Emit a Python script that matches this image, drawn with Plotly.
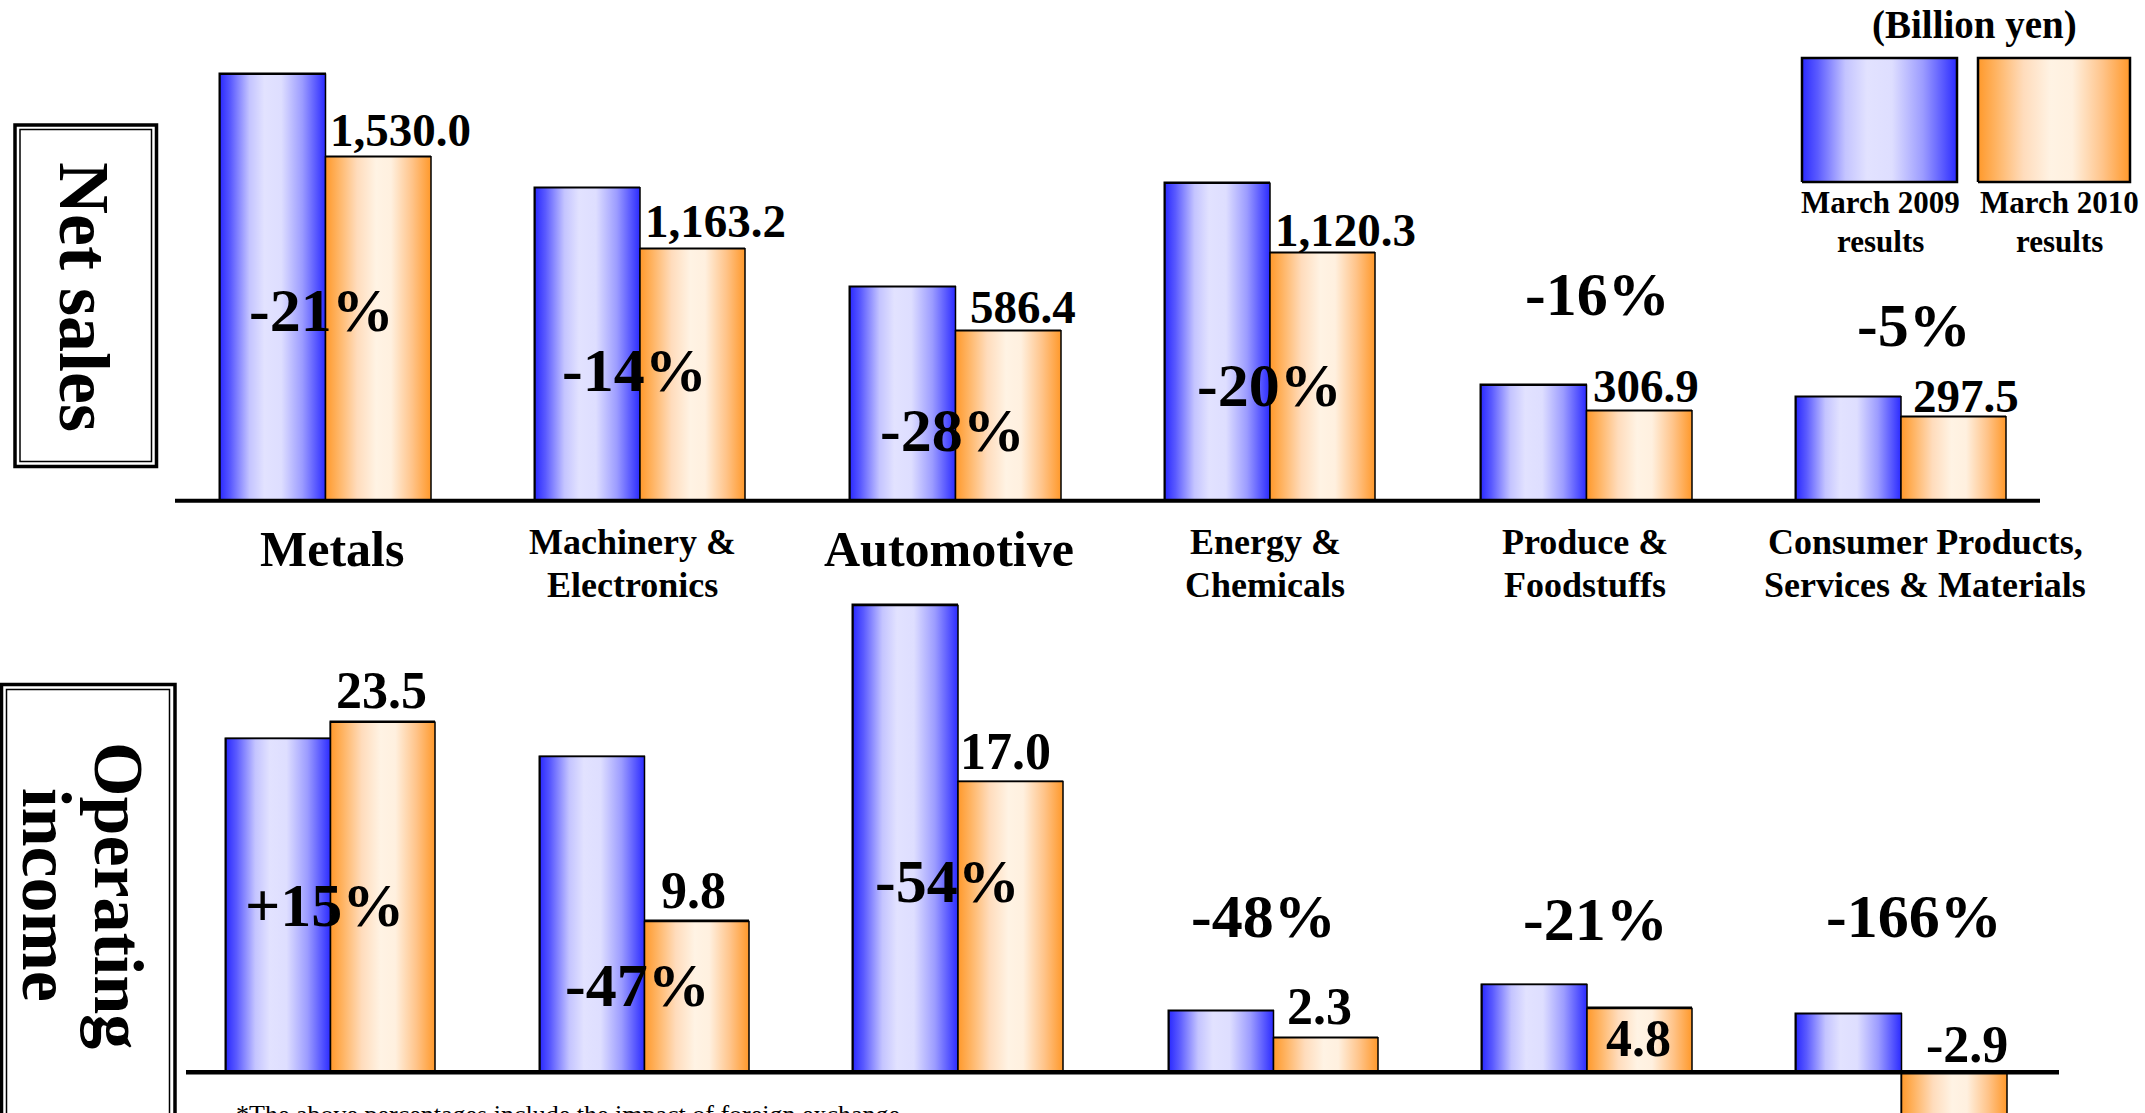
import plotly.graph_objects as go

# ---------------- data ----------------
categories = ["Metals", "Machinery & Electronics", "Automotive",
              "Energy & Chemicals", "Produce & Foodstuffs",
              "Consumer Products, Services & Materials"]
category_lines = [["Metals"], ["Machinery &", "Electronics"], ["Automotive"],
                  ["Energy &", "Chemicals"], ["Produce &", "Foodstuffs"],
                  ["Consumer Products,", "Services & Materials"]]
series_names = ["March 2009 results", "March 2010 results"]

sales_2009 = [1897, 1445, 738, 1434, 394, 368]
sales_2010 = [1530.0, 1163.2, 586.4, 1120.3, 306.9, 297.5]
sales_change = ["-21%", "-14%", "-28%", "-20%", "-16%", "-5%"]

income_2009 = [22.4, 20.5, 27.3, 4.1, 6.6, 4.0]
income_2010 = [23.5, 9.8, 17.0, 2.3, 4.8, -2.9]
income_change = ["+15%", "-47%", "-54%", "-48%", "-21%", "-166%"]

unit_label = "(Billion yen)"
footnote = "*The above percentages include the impact of foreign exchange."

# ---------------- layout constants (pixels) ----------------
W, H = 2145, 1113
FONT = "Times New Roman, Liberation Serif, serif"


def px(x):
    return x / W


def py(y):
    return 1 - y / H


TOP_BASE = 500.7
BOT_BASE = 1072.3
BOT_TOP = 560
top_x = [(220, 431), (535, 745), (850, 1061), (1165, 1375), (1481, 1692), (1796, 2006)]
bot_x = [(226, 435), (540, 749), (853, 1063), (1169, 1378), (1482, 1692), (1796, 2007)]
top_ppu = [0.2248, 0.2166, 0.2899, 0.2214, 0.2933, 0.2824]   # px per unit, each panel
bot_ppu = [14.9, 15.4, 17.1, 15.0, 13.3, 14.65]

top_pct_pos = [(321, 310), (634, 370), (952, 430), (1269, 385), (1597, 294), (1914, 325)]
bot_pct_pos = [(324, 905), (637, 985), (947, 881), (1263, 916), (1595, 919), (1914, 916)]
top_val_shift = [(22, 27), (23, 28), (15, 24), (23, 23), (7, 25), (12, 21)]
bot_val_shift = [(-1, 32), (-3, 31), (-5, 30), (-6, 31), (-1, -30), (13, 28)]
cat_single_y = 549
cat_two_y = (542, 585)
cat_centers = [332, 632, 949, 1265, 1585, 1925]

BLUE_SCALE = [[0, "#2b2bff"], [0.1, "#5a5aff"], [0.28, "#c4c4ff"], [0.42, "#e2e2ff"],
              [0.58, "#dedeff"], [0.78, "#9c9cff"], [1, "#2b2bff"]]
ORANGE_SCALE = [[0, "#ff992b"], [0.12, "#ffb463"], [0.3, "#ffdcbc"], [0.48, "#fff3e4"],
                [0.62, "#fff0df"], [0.82, "#ffc48a"], [1, "#ff992b"]]
MID_COLORS = ["#8a8aff", "#ffcf9e"]

fig = go.Figure()
layout_axes = {}
PAD = 4  # px padding so outlines are not clipped


def axis_names(n):
    return ("x" if n == 1 else f"x{n}", "y" if n == 1 else f"y{n}",
            "xaxis" if n == 1 else f"xaxis{n}", "yaxis" if n == 1 else f"yaxis{n}")


def add_panel(n, xpx, ydom, yrange, v09, v10):
    xa, ya, xk, yk = axis_names(n)
    x0, x1 = xpx
    pad_u = PAD * 2.0 / (x1 - x0)
    fig.add_trace(go.Bar(x=[0, 1], y=[v09, v10], width=[1, 1], name="",
                         marker=dict(color=MID_COLORS, line=dict(color="black", width=1.5)),
                         xaxis=xa, yaxis=ya, hovertext=series_names, hoverinfo="text+y"))
    for j, (v, cs) in enumerate(zip([v09, v10], [BLUE_SCALE, ORANGE_SCALE])):
        fig.add_trace(go.Scatter(
            x=[j - 0.5, j - 0.5, j + 0.5, j + 0.5, j - 0.5], y=[0, v, v, 0, 0],
            fill="toself", fillgradient=dict(type="horizontal", colorscale=cs),
            line=dict(color="black", width=1.5), mode="lines",
            xaxis=xa, yaxis=ya, hoverinfo="skip"))
    layout_axes[xk] = dict(domain=[px(x0 - PAD), px(x1 + PAD)], range=[-0.5 - pad_u, 1.5 + pad_u],
                           visible=False, anchor=ya, fixedrange=True)
    layout_axes[yk] = dict(domain=ydom, range=yrange, visible=False, anchor=xa, fixedrange=True)


annotations = []


def bold(text, size, x, y, **kw):
    d = dict(text=text, x=x, y=y, xref=kw.pop("xref", "paper"), yref=kw.pop("yref", "paper"),
             showarrow=False, font=dict(family=FONT, size=size, color="black", weight="bold"),
             xanchor=kw.pop("xanchor", "center"), yanchor=kw.pop("yanchor", "middle"))
    d.update(kw)
    annotations.append(d)


for i in range(len(categories)):
    # net sales panel
    ymax = TOP_BASE / top_ppu[i]
    add_panel(i + 1, top_x[i], [py(TOP_BASE), 1], [0, ymax], sales_2009[i], sales_2010[i])
    xa, ya, _, _ = axis_names(i + 1)
    dx, dy = top_val_shift[i]
    bold(f"{sales_2010[i]:,.1f}", 47, 1, max(sales_2010[i], 0), xref=xa, yref=ya, xshift=dx, yshift=dy)
    bold(sales_change[i], 62, px(top_pct_pos[i][0]), py(top_pct_pos[i][1]))

    # operating income panel
    n = i + 7
    ymax = (BOT_BASE - BOT_TOP) / bot_ppu[i]
    ymin = -(H - BOT_BASE) / bot_ppu[i]
    add_panel(n, bot_x[i], [0, py(BOT_TOP)], [ymin, ymax], income_2009[i], income_2010[i])
    xa, ya, _, _ = axis_names(n)
    dx, dy = bot_val_shift[i]
    bold(f"{income_2010[i]:.1f}", 52, 1, max(income_2010[i], 0), xref=xa, yref=ya, xshift=dx, yshift=dy)
    bold(income_change[i], 62, px(bot_pct_pos[i][0]), py(bot_pct_pos[i][1]))

    # category labels
    lines = category_lines[i]
    if len(lines) == 1:
        bold(lines[0], 50, px(cat_centers[i]), py(cat_single_y))
    else:
        for ln, yy in zip(lines, cat_two_y):
            bold(ln, 36, px(cat_centers[i]), py(yy))

# legend swatches on an overlay pixel axis
LEG = [((1802, 1957), (58, 182), BLUE_SCALE), ((1978, 2130), (58, 182), ORANGE_SCALE)]
for (lx, ly, cs) in LEG:
    fig.add_trace(go.Scatter(x=[lx[0], lx[0], lx[1], lx[1], lx[0]], y=[ly[1], ly[0], ly[0], ly[1], ly[1]],
                             fill="toself", fillgradient=dict(type="horizontal", colorscale=cs),
                             line=dict(color="black", width=2.5), mode="lines",
                             xaxis="x13", yaxis="y13", hoverinfo="skip"))
layout_axes["xaxis13"] = dict(domain=[0, 1], range=[0, W], visible=False, anchor="y13", fixedrange=True)
layout_axes["yaxis13"] = dict(domain=[0, 1], range=[H, 0], visible=False, anchor="x13", fixedrange=True)

bold(unit_label, 39, px(1974), py(25))
for cx, name in zip([1880, 2059], series_names):
    first, second = name.rsplit(" ", 1)
    bold(first, 31, px(cx), py(203))
    bold(second, 31, px(cx), py(241))

# side titles
bold("Net sales", 72, px(84), py(297), textangle=90)
bold("Operating", 70, px(119), py(895), textangle=90)
bold("income", 70, px(47), py(895), textangle=90)

annotations.append(dict(text=footnote, x=px(234), y=py(1098), xref="paper", yref="paper",
                        showarrow=False, xanchor="left", yanchor="top",
                        font=dict(family=FONT, size=26, color="black")))

shapes = [
    dict(type="line", xref="paper", yref="paper", x0=px(175), x1=px(2040), y0=py(TOP_BASE), y1=py(TOP_BASE),
         line=dict(color="black", width=4)),
    dict(type="line", xref="paper", yref="paper", x0=px(186), x1=px(2059), y0=py(BOT_BASE), y1=py(BOT_BASE),
         line=dict(color="black", width=4.5)),
    dict(type="rect", xref="paper", yref="paper", x0=px(15), x1=px(156.5), y0=py(125), y1=py(466.5),
         line=dict(color="black", width=3.5)),
    dict(type="rect", xref="paper", yref="paper", x0=px(20), x1=px(151.5), y0=py(129.5), y1=py(461.5),
         line=dict(color="black", width=1.5)),
    dict(type="rect", xref="paper", yref="paper", x0=px(1.5), x1=px(175), y0=py(684.5), y1=py(1140),
         line=dict(color="black", width=3.5)),
    dict(type="rect", xref="paper", yref="paper", x0=px(6.5), x1=px(169.5), y0=py(689.5), y1=py(1140),
         line=dict(color="black", width=1.5)),
]

fig.update_layout(
    width=W, height=H, margin=dict(l=0, r=0, t=0, b=0),
    paper_bgcolor="white", plot_bgcolor="rgba(0,0,0,0)",
    showlegend=False, barmode="group", bargap=0, bargroupgap=0,
    annotations=annotations, shapes=shapes, **layout_axes,
)

fig.write_html("out.html", config={"displayModeBar": False})
